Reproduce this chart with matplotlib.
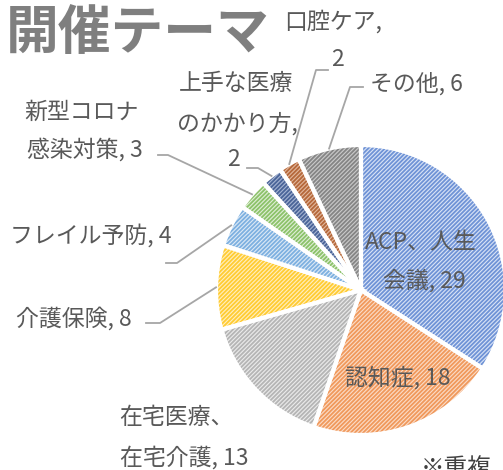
import numpy as np
import matplotlib
matplotlib.use('Agg')
import matplotlib.pyplot as plt

plt.rcParams['font.family'] = ['Noto Sans CJK JP', 'DejaVu Sans']
plt.rcParams['hatch.linewidth'] = 1.3

# Data (clockwise from top)
themes = ['ACP、人生会議', '認知症', '在宅医療、在宅介護', '介護保険', 'フレイル予防',
          '新型コロナ感染対策', '上手な医療のかかり方', '口腔ケア', 'その他']
counts = [29, 18, 13, 8, 4, 3, 2, 2, 6]
# label lines as shown on the chart
label_lines = [['ACP、人生', '会議, 29'], ['認知症, 18'], ['在宅医療、', '在宅介護, 13'],
               ['介護保険, 8'], ['フレイル予防, 4'], ['新型コロナ', '感染対策, 3'],
               ['上手な医療', 'のかかり方,', '2'], ['口腔ケア,', '2'], ['その他, 6']]

# Excel-like palette: base (stripe) colour and light background tint
stripe_colors = ['#6F93D6', '#F0995C', '#B5B5B5', '#FFCC33', '#7DB0E0',
                 '#8CC26A', '#4A6498', '#B5683A', '#858585']
back_colors = ['#D9E3F6', '#FBDCC8', '#EBEBEB', '#FFEFC0', '#DCE9F6',
               '#DFEED6', '#A5B4D3', '#E2B79C', '#CACACA']

W, H = 503, 470
fig = plt.figure(figsize=(W / 100, H / 100), dpi=100)
ax = fig.add_axes([0, 0, 1, 1])

cx, cy, r = 361, H - 290, 145

wedges, _ = ax.pie(counts, colors=back_colors, startangle=90, counterclock=False,
                   center=(cx, cy), radius=r, frame=True,
                   wedgeprops=dict(linewidth=0))
for w, sc in zip(wedges, stripe_colors):
    w.set_hatch('////////')
    w.set_edgecolor(sc)
    w.set_linewidth(0)
# white separators
ax.pie(counts, colors=['none'] * len(counts), startangle=90, counterclock=False,
       center=(cx, cy), radius=r, frame=True,
       wedgeprops=dict(linewidth=3, edgecolor='white'))
ax.set_xlim(0, W)
ax.set_ylim(0, H)
ax.set_aspect('equal')
ax.axis('off')

txt_color = '#595959'
fs = 16.5

# per-line text centres (pixels, y down)
line_pos = [
    [(421, 243), (424, 281)],
    [(398, 378)],
    [(176, 418), (184, 458)],
    [(74, 319)],
    [(91, 236)],
    [(82, 112), (85, 150)],
    [(236, 84), (237, 124), (233, 160)],
    [(333, 22), (337, 60)],
    [(416, 84)],
]
for lines, poss in zip(label_lines, line_pos):
    for s, (x, y) in zip(lines, poss):
        ax.text(x, H - y, s, ha='center', va='center', fontsize=fs, color=txt_color)

# leader lines: label end -> elbow -> wedge edge
leaders = {
    3: [(146, 323), (160, 323)],
    4: [(166, 263), (177, 263)],
    5: [(158, 155), (168, 155)],
    6: [(247, 168), (258, 168)],
    7: [(328, 70), (316, 70)],
    8: [(363, 87), (350, 87)],
}
for i, pts in leaders.items():
    w = wedges[i]
    mid = np.deg2rad((w.theta1 + w.theta2) / 2)
    ex, ey = cx + r * np.cos(mid), cy + r * np.sin(mid)
    xs = [p[0] for p in pts] + [ex]
    ys = [H - p[1] for p in pts] + [ey]
    ax.plot(xs, ys, color='#A6A6A6', linewidth=1.3)

ax.text(6, H - 33, '開催テーマ', fontsize=38, fontweight='bold', color='#7F7F7F',
        ha='left', va='center')
ax.text(421, H - 468, '※重複', fontsize=17, color='#404040', ha='left', va='center')

fig.savefig('out.png', dpi=100)
